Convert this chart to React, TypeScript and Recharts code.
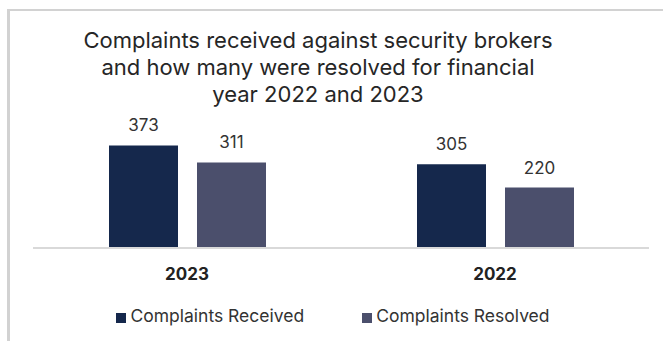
import { BarChart, Bar, XAxis, YAxis, Legend, LabelList } from "recharts";

const years = ["2023", "2022"];
const received = [373, 305];
const resolved = [311, 220];
const titleLines = [
  "Complaints received against security brokers",
  "and how many were resolved for financial",
  "year 2022 and 2023",
];

const FONT = "Inter, Roboto, sans-serif";

export default function App() {
  const data = years.map((y, i) => ({
    year: y,
    received: received[i],
    resolved: resolved[i],
  }));

  return (
    <div
      style={{
        position: "absolute",
        top: 0,
        left: 0,
        width: 663,
        height: 341,
        background: "#fff",
        fontFamily: FONT,
        overflow: "hidden",
      }}
    >
      {/* frame */}
      <div
        style={{
          position: "absolute",
          left: 7,
          top: 9,
          width: 700,
          height: 400,
          borderTop: "2px solid #d2d2d2",
          borderLeft: "3px solid #d2d2d2",
        }}
      />
      {/* title */}
      <div
        style={{
          position: "absolute",
          left: 0,
          top: 27,
          width: 636,
          textAlign: "center",
          fontSize: 22,
          lineHeight: "27px",
          color: "#262626",
          whiteSpace: "nowrap",
        }}
      >
        {titleLines.map((t) => (
          <div key={t}>{t}</div>
        ))}
      </div>

      <BarChart
        width={663}
        height={341}
        data={data}
        margin={{ top: 138, right: 14, bottom: 63, left: 33 }}
        barSize={69}
        barGap={19}
        style={{ position: "absolute", top: 0, left: 0 }}
      >
        <XAxis
          dataKey="year"
          height={30}
          tickLine={false}
          tickSize={6}
          tickMargin={14}
          axisLine={{ stroke: "#d9d9d9", strokeWidth: 2 }}
          tick={{ fill: "#222", fontSize: 17, fontWeight: 700, fontFamily: FONT }}
        />
        <YAxis hide domain={[0, 400]} />
        <Legend
          verticalAlign="middle"
          align="center"
          layout="horizontal"
          iconType="square"
          iconSize={10}
          wrapperStyle={{ top: 305, left: 0, width: 676 }}
          formatter={(value: string, _entry: unknown, index: number) => (
            <span
              style={{
                color: "#333",
                fontSize: 17.5,
                fontFamily: FONT,
                marginRight: index === 0 ? 48 : 0,
              }}
            >
              {value}
            </span>
          )}
        />
        <Bar
          dataKey="received"
          name="Complaints Received"
          fill="#15284c"
          isAnimationActive={false}
        >
          <LabelList
            dataKey="received"
            position="top"
            offset={14}
            fill="#333"
            fontSize={17}
            fontFamily={FONT}
          />
        </Bar>
        <Bar
          dataKey="resolved"
          name="Complaints Resolved"
          fill="#4b4f6c"
          isAnimationActive={false}
        >
          <LabelList
            dataKey="resolved"
            position="top"
            offset={14}
            fill="#333"
            fontSize={17}
            fontFamily={FONT}
          />
        </Bar>
      </BarChart>
    </div>
  );
}
